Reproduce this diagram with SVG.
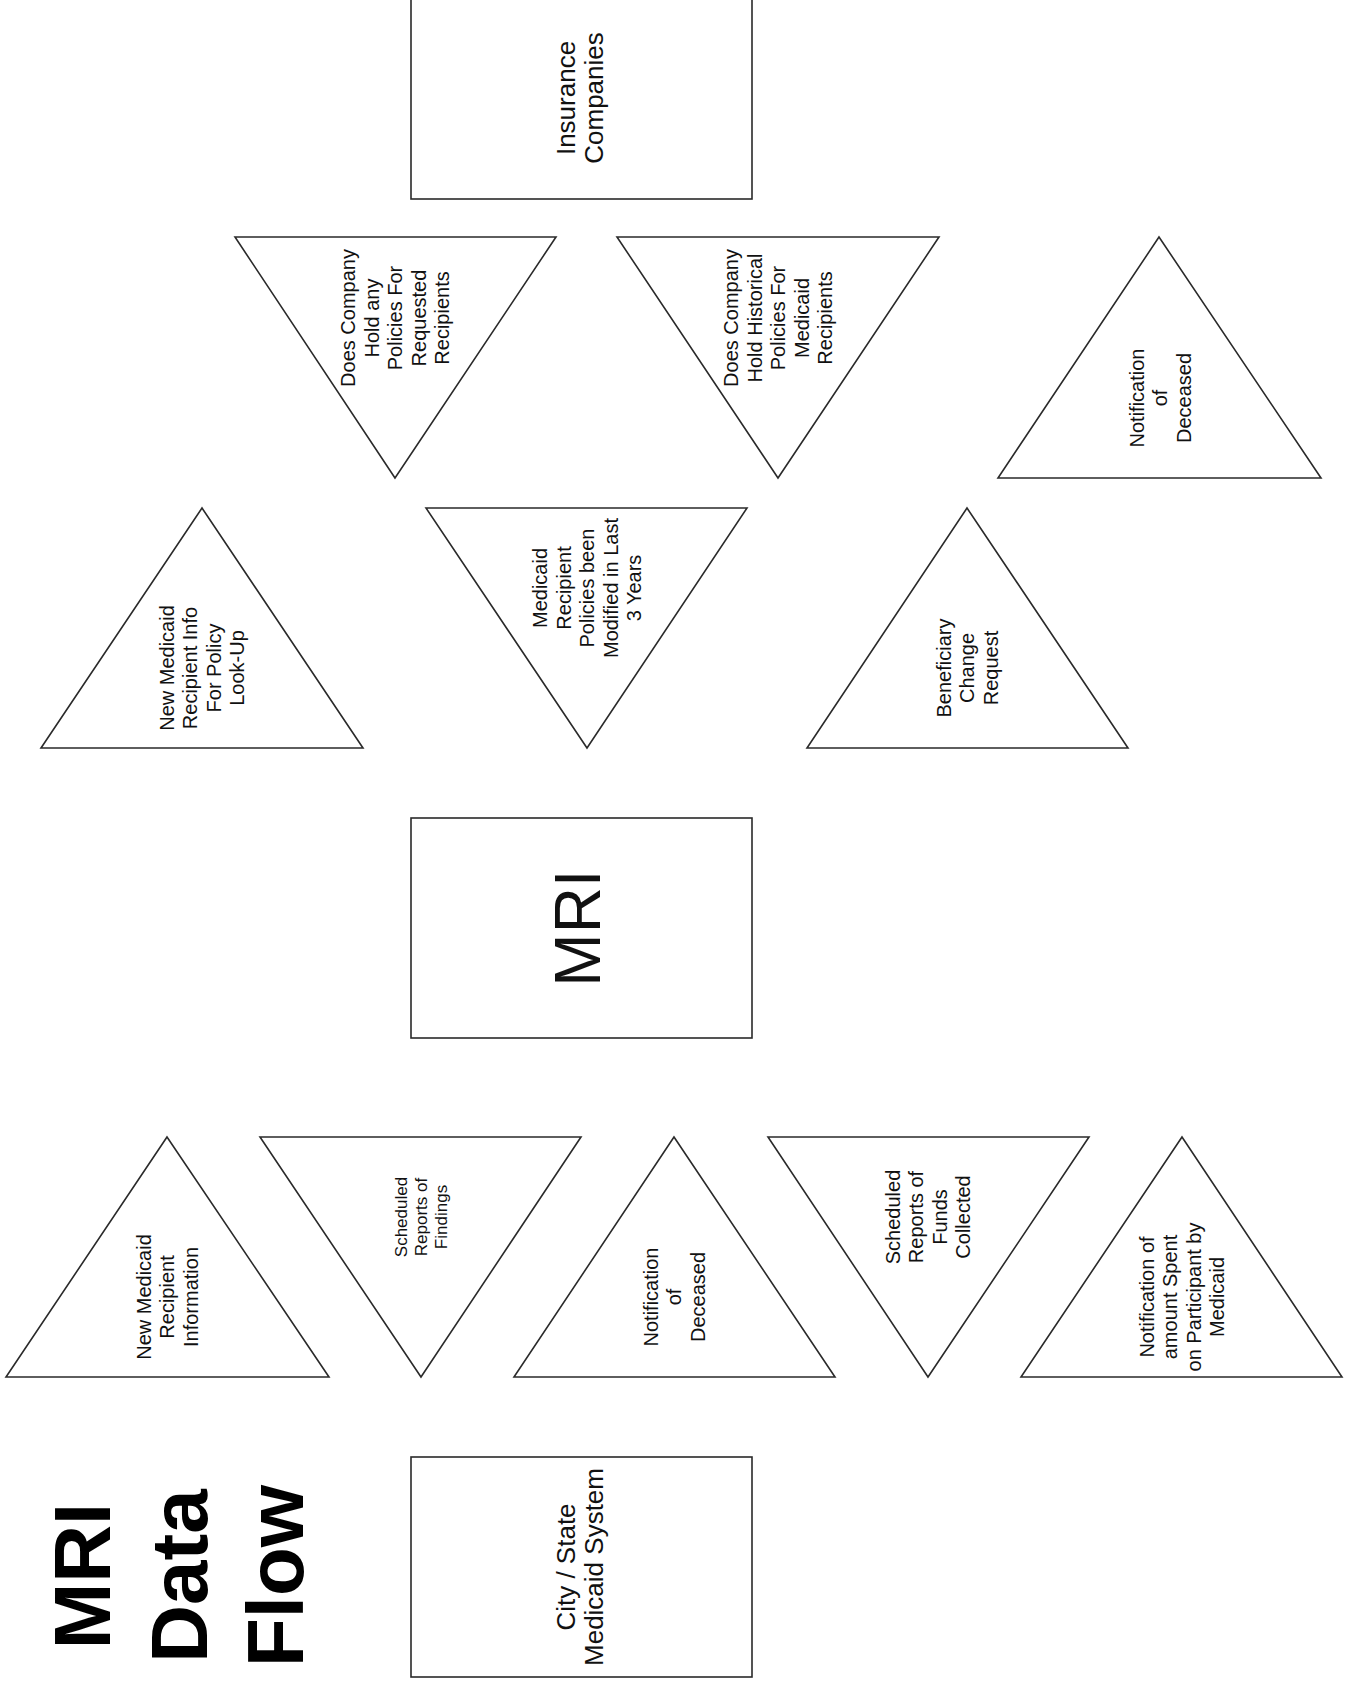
<svg xmlns="http://www.w3.org/2000/svg" width="1356" height="1683" viewBox="0 0 1356 1683">
<style>
.shape{fill:#fff;stroke:#2a2a2a;stroke-width:1.6}
.t{font-family:"Liberation Sans",Arial,sans-serif;font-size:20px;fill:#111;text-anchor:middle}
.s{font-size:17px}
.b{font-size:26px}
.big{font-size:64px}
.title{font-family:"Liberation Sans",Arial,sans-serif;font-weight:bold;font-size:80px;fill:#000;text-anchor:middle}
</style>
<rect width="1356" height="1683" fill="#fff"/>
<g id="connectors"></g>

<g id="insurance">
<rect class="shape" x="411" y="-2" width="341" height="201"/>
<g transform="translate(580,98) rotate(-90)"><text class="t b"><tspan x="0" y="-4.6">Insurance</tspan><tspan x="0" y="23.4">Companies</tspan></text></g>
</g>

<g id="q-policies">
<polygon class="shape" points="235,237 556,237 395,478"/>
<g transform="translate(395,318) rotate(-90)"><text class="t"><tspan x="0" y="-40">Does Company</tspan><tspan x="0" y="-16.5">Hold any</tspan><tspan x="0" y="7">Policies For</tspan><tspan x="0" y="30.5">Requested</tspan><tspan x="0" y="54">Recipients</tspan></text></g>
</g>

<g id="q-historical">
<polygon class="shape" points="617,237 939,237 778,478"/>
<g transform="translate(778,318) rotate(-90)"><text class="t"><tspan x="0" y="-40">Does Company</tspan><tspan x="0" y="-16.5">Hold Historical</tspan><tspan x="0" y="7">Policies For</tspan><tspan x="0" y="30.5">Medicaid</tspan><tspan x="0" y="54">Recipients</tspan></text></g>
</g>

<g id="notify-deceased-top">
<polygon class="shape" points="1159,237 1321,478 998,478"/>
<g transform="translate(1160,398) rotate(-90)"><text class="t"><tspan x="0" y="-16.5">Notification</tspan><tspan x="0" y="7">of</tspan><tspan x="0" y="30.5">Deceased</tspan></text></g>
</g>

<g id="new-recipient-lookup">
<polygon class="shape" points="202,508 363,748 41,748"/>
<g transform="translate(202,668) rotate(-90)"><text class="t"><tspan x="0" y="-28.25">New Medicaid</tspan><tspan x="0" y="-4.75">Recipient Info</tspan><tspan x="0" y="18.75">For Policy</tspan><tspan x="0" y="42.25">Look-Up</tspan></text></g>
</g>

<g id="q-modified">
<polygon class="shape" points="426,508 747,508 587,748"/>
<g transform="translate(587,588) rotate(-90)"><text class="t"><tspan x="0" y="-40">Medicaid</tspan><tspan x="0" y="-16.5">Recipient</tspan><tspan x="0" y="7">Policies been</tspan><tspan x="0" y="30.5">Modified in Last</tspan><tspan x="0" y="54">3 Years</tspan></text></g>
</g>

<g id="beneficiary-change">
<polygon class="shape" points="967,508 1128,748 807,748"/>
<g transform="translate(967,668) rotate(-90)"><text class="t"><tspan x="0" y="-16.5">Beneficiary</tspan><tspan x="0" y="7">Change</tspan><tspan x="0" y="30.5">Request</tspan></text></g>
</g>

<g id="mri">
<rect class="shape" x="411" y="818" width="341" height="220"/>
<g transform="translate(577,928) rotate(-90)"><text class="t big" x="0" y="23">MRI</text></g>
</g>

<g id="new-recipient-info">
<polygon class="shape" points="167,1137 329,1377 6,1377"/>
<g transform="translate(167,1297) rotate(-90)"><text class="t"><tspan x="0" y="-16.5">New Medicaid</tspan><tspan x="0" y="7">Recipient</tspan><tspan x="0" y="30.5">Information</tspan></text></g>
</g>

<g id="reports-findings">
<polygon class="shape" points="260,1137 581,1137 421,1377"/>
<g transform="translate(421,1217) rotate(-90)"><text class="t s"><tspan x="0" y="-14">Scheduled</tspan><tspan x="0" y="6">Reports of</tspan><tspan x="0" y="26">Findings</tspan></text></g>
</g>

<g id="notify-deceased-bottom">
<polygon class="shape" points="674,1137 835,1377 514,1377"/>
<g transform="translate(674,1297) rotate(-90)"><text class="t"><tspan x="0" y="-16.5">Notification</tspan><tspan x="0" y="7">of</tspan><tspan x="0" y="30.5">Deceased</tspan></text></g>
</g>

<g id="reports-funds">
<polygon class="shape" points="768,1137 1089,1137 928,1377"/>
<g transform="translate(928,1217) rotate(-90)"><text class="t"><tspan x="0" y="-28.25">Scheduled</tspan><tspan x="0" y="-4.75">Reports of</tspan><tspan x="0" y="18.75">Funds</tspan><tspan x="0" y="42.25">Collected</tspan></text></g>
</g>

<g id="notify-amount">
<polygon class="shape" points="1182,1137 1342,1377 1021,1377"/>
<g transform="translate(1182,1297) rotate(-90)"><text class="t"><tspan x="0" y="-28.25">Notification of</tspan><tspan x="0" y="-4.75">amount Spent</tspan><tspan x="0" y="18.75">on Participant by</tspan><tspan x="0" y="42.25">Medicaid</tspan></text></g>
</g>

<g id="medicaid-system">
<rect class="shape" x="411" y="1457" width="341" height="220"/>
<g transform="translate(580,1567) rotate(-90)"><text class="t b"><tspan x="0" y="-4.6">City / State</tspan><tspan x="0" y="23.4">Medicaid System</tspan></text></g>
</g>

<g id="title" transform="translate(0,1576) rotate(-90)">
<text class="title"><tspan x="0" y="110">MRI</tspan><tspan x="0" y="207">Data</tspan><tspan x="0" y="303">Flow</tspan></text>
</g>
</svg>
